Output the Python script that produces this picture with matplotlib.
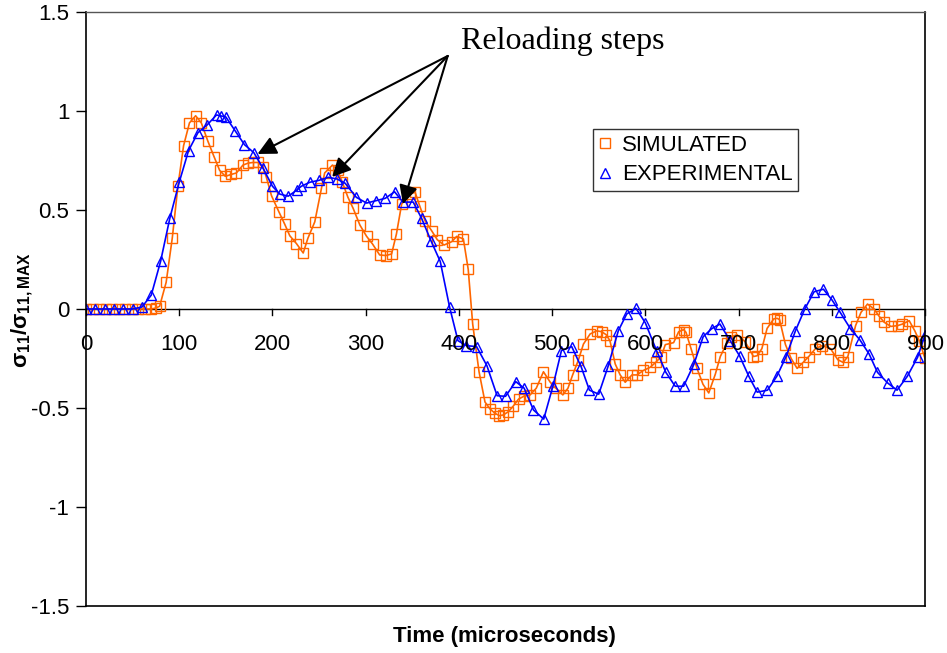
import matplotlib
matplotlib.use("Agg")
import matplotlib.pyplot as plt
from matplotlib.lines import Line2D

plt.rcParams['font.family'] = ['Liberation Sans', 'DejaVu Sans']
plt.rcParams['mathtext.fontset'] = 'custom'
plt.rcParams['mathtext.rm'] = 'Liberation Sans'
plt.rcParams['mathtext.bf'] = 'Liberation Sans:bold'
plt.rcParams['mathtext.default'] = 'regular'

# simulated response (orange squares)
sim_t = [0, 7, 14, 21, 28, 35, 42, 49, 56, 63, 70, 75, 79, 86, 92.6, 98.6,
         104.7, 111, 117.6, 123.7, 130.8, 137.3, 143.4, 149.5, 156, 161.3,
         168.4, 174, 179, 184.5, 190, 193.5, 199, 207, 213, 218.6, 225.8, 233,
         238, 245.4, 252.6, 256, 264.4, 270, 275, 281, 286.6, 293.8, 301,
         307.4, 315, 321.6, 327.8, 333, 338.6, 347.5, 353, 358, 363.6, 370.8,
         376.8, 384, 392.3, 397.7, 404.8, 410, 414.8, 421.6, 428, 433.4, 438.8,
         443.4, 447.7, 453, 458.4, 464, 470, 476.4, 483, 490.7, 498, 504,
         511.5, 517, 522, 528, 533.6, 540.8, 548, 553.3, 558, 562, 567.7, 573,
         578.4, 585.6, 591, 598, 605, 611, 617, 621.4, 630.3, 635.7, 641,
         643.6, 649, 655.4, 661.8, 668, 675, 680.4, 687.6, 692, 698.4, 707,
         716, 720, 725, 730.6, 737.7, 741.4, 744, 750.3, 756.4, 762.8, 769.2,
         775.3, 782.5, 789.7, 798.6, 806.4, 812.2, 817.2, 825.5, 831.3, 838.3,
         845.4, 850.8, 856.2, 863.3, 870.5, 875.8, 883, 889, 893.8, 900]
sim_v = [0, 0, 0, 0, 0, 0, 0, 0, 0, 0, 0, 0.005, 0.014, 0.135, 0.36, 0.62,
         0.825, 0.94, 0.976, 0.94, 0.847, 0.77, 0.70, 0.67, 0.68, 0.687,
         0.727, 0.737, 0.74, 0.74, 0.716, 0.665, 0.572, 0.49, 0.43, 0.37, 0.33,
         0.283, 0.357, 0.44, 0.61, 0.687, 0.727, 0.70, 0.64, 0.564, 0.508,
         0.424, 0.367, 0.328, 0.273, 0.27, 0.278, 0.379, 0.53, 0.58, 0.59,
         0.52, 0.446, 0.395, 0.35, 0.323, 0.34, 0.367, 0.354, 0.20, -0.076,
         -0.317, -0.47, -0.505, -0.527, -0.539, -0.535, -0.519, -0.49, -0.455,
         -0.44, -0.434, -0.40, -0.317, -0.37, -0.40, -0.434, -0.40, -0.333,
         -0.26, -0.177, -0.126, -0.11, -0.115, -0.13, -0.16, -0.278, -0.333,
         -0.37, -0.333, -0.333, -0.31, -0.295, -0.27, -0.24, -0.18, -0.17,
         -0.115, -0.104, -0.118, -0.2, -0.30, -0.38, -0.424, -0.33, -0.24,
         -0.17, -0.14, -0.13, -0.165, -0.24, -0.236, -0.2, -0.098, -0.05,
         -0.047, -0.054, -0.18, -0.25, -0.30, -0.27, -0.24, -0.2, -0.185, -0.2,
         -0.256, -0.27, -0.24, -0.084, -0.017, 0.025, 0.0, -0.037, -0.067,
         -0.088, -0.084, -0.076, -0.059, -0.11, -0.16, -0.25]

# experimental response (blue triangles)
exp_t = [0, 10, 20, 30, 40, 50, 60, 70, 80, 90, 100, 110, 120, 130, 140, 145,
         150, 160, 170, 180, 190, 200, 208, 217, 226, 231, 240, 250, 260, 269,
         278, 290, 301, 311, 321, 331, 340, 351, 360, 370, 380, 390, 399, 408,
         419, 430, 441, 450, 461, 470, 480, 491, 501, 510, 521, 531, 540, 550,
         560, 571, 580, 590, 600, 612, 622, 632, 641, 652, 662, 671, 680, 691,
         701, 711, 720, 731, 741, 751, 761, 771, 781, 791, 800, 809, 820, 830,
         840, 849, 860, 870, 881, 892, 900]
exp_v = [0, 0, 0, 0, 0, 0, 0.01, 0.07, 0.24, 0.46, 0.64, 0.80, 0.89, 0.93,
         0.98, 0.975, 0.97, 0.90, 0.83, 0.79, 0.71, 0.62, 0.58, 0.57, 0.60,
         0.62, 0.64, 0.65, 0.665, 0.657, 0.635, 0.564, 0.535, 0.547, 0.559,
         0.592, 0.54, 0.54, 0.458, 0.345, 0.24, 0.01, -0.16, -0.185, -0.19,
         -0.286, -0.438, -0.441, -0.367, -0.40, -0.51, -0.556, -0.387, -0.21,
         -0.19, -0.29, -0.41, -0.43, -0.29, -0.11, -0.025, 0.003, -0.07, -0.21,
         -0.32, -0.39, -0.39, -0.28, -0.14, -0.10, -0.076, -0.16, -0.236,
         -0.34, -0.42, -0.41, -0.34, -0.24, -0.11, 0.0, 0.087, 0.10, 0.047,
         -0.017, -0.10, -0.155, -0.227, -0.32, -0.374, -0.41, -0.34, -0.244,
         -0.13]

xticks = [0, 100, 200, 300, 400, 500, 600, 700, 800, 900]
yticks = [-1.5, -1, -0.5, 0, 0.5, 1, 1.5]
ytick_labels = ['-1.5', '-1', '-0.5', '0', '0.5', '1', '1.5']

orange = '#FF6600'
blue = '#0000FF'
fs = 16

fig = plt.figure(figsize=(9.47, 6.53), dpi=100)
ax = fig.add_axes([0.0908, 0.072, 0.8860, 0.9096])

ax.plot(sim_t, sim_v, color=orange, lw=1.2, marker='s', ms=7.5,
        mfc='none', mec=orange, mew=1.0)
ax.plot(exp_t, exp_v, color=blue, lw=1.2, marker='^', ms=7.5,
        mfc='none', mec=blue, mew=1.0)

ax.set_xlim(0, 900)
ax.set_ylim(-1.5, 1.5)
ax.set_yticks(yticks)
ax.set_yticklabels(ytick_labels)
ax.tick_params(axis='y', labelsize=fs, direction='out', length=7,
               width=1, colors='black', pad=5)

# box around the plot area plus an axis line at y = 0
for s in ['left', 'right', 'bottom']:
    ax.spines[s].set_linewidth(1.2)
    ax.spines[s].set_color('black')
ax.spines['top'].set_linewidth(1.0)
ax.spines['top'].set_color('#555555')
ax.axhline(0, color='black', lw=1.0, zorder=1)
ax.set_xticks([])
# x ticks and labels hang from the zero line
for t in xticks:
    ax.plot([t, t], [0, -0.03], color='black', lw=1.0, clip_on=False)
    ax.text(t, -0.125, str(t), ha='center', va='top', fontsize=fs)

fig.text(0.533, 0.026, 'Time (microseconds)', fontsize=fs,
         fontweight='bold', ha='center', va='center')
fig.text(0.023, 0.525, '$σ_{11}/σ_{11,MAX}$', fontsize=fs,
         fontweight='bold', rotation=90, ha='center', va='center')

handles = [Line2D([], [], ls='none', marker='s', ms=6.5, mfc='none',
                  mec=orange, mew=1.0),
           Line2D([], [], ls='none', marker='^', ms=6.5, mfc='none',
                  mec=blue, mew=1.0)]
leg = ax.legend(handles, ['SIMULATED', 'EXPERIMENTAL'],
                loc='upper left', bbox_to_anchor=(0.604, 0.803),
                fontsize=fs, frameon=True, fancybox=False,
                handlelength=0.6, handletextpad=0.45, borderpad=0.25,
                labelspacing=0.4, borderaxespad=0)
leg.get_frame().set_edgecolor('black')
leg.get_frame().set_linewidth(1.0)

# annotation
origin = (388, 1.278)
for tip in [(184, 0.783), (264, 0.667), (340, 0.53)]:
    ax.annotate('', xy=tip, xytext=origin,
                arrowprops=dict(arrowstyle='-|>', color='black', lw=1.5,
                                mutation_scale=28, shrinkA=0, shrinkB=0))
ax.text(402, 1.35, 'Reloading steps', fontsize=23, ha='left', va='center',
        family='Liberation Serif')

fig.savefig('out.png', dpi=100)
